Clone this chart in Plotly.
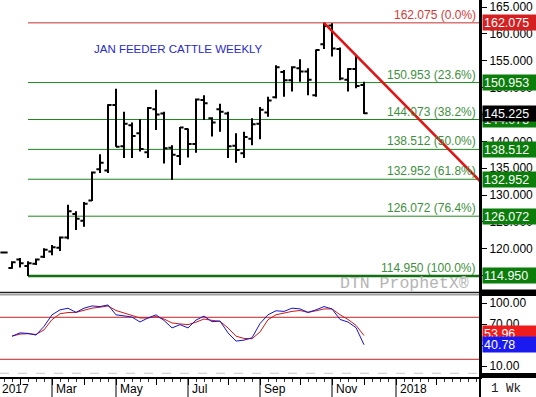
import plotly.graph_objects as go
import pandas as pd

# ---------------- data ----------------
bar_dates = pd.date_range("2017-01-20", periods=46, freq="7D")

opens = [119.3, 116.4, 118.0, 116.8, 117.2, 118.5, 119.5, 120.2, 122.1, 126.5,
         125.2, 129.0, 134.8, 134.6, 146.8, 139.1, 143.0, 141.5, 138.0, 146.0,
         145.2, 138.8, 137.3, 142.3, 139.5, 147.7, 144.3, 146.0, 145.2, 139.2,
         137.8, 140.5, 143.3, 145.4, 148.2, 152.9, 151.4, 153.6, 153.0, 148.6,
         158.1, 161.6, 157.2, 151.5, 153.5, 150.5]
highs = [119.4, 117.7, 118.3, 117.7, 118.2, 120.1, 120.7, 122.3, 128.2, 127.0,
         128.7, 134.4, 137.6, 146.9, 149.8, 145.5, 143.5, 144.1, 146.4, 149.6,
         145.5, 139.3, 142.7, 142.4, 148.0, 148.6, 144.5, 147.0, 145.5, 141.5,
         141.8, 144.3, 146.4, 148.3, 154.2, 153.3, 154.0, 155.3, 153.6, 157.1,
         162.075, 162.0, 157.5, 153.6, 156.1, 151.1]
lows = [119.2, 116.3, 116.5, 114.95, 117.0, 118.3, 118.8, 119.6, 121.8, 123.5,
        124.1, 128.9, 134.1, 134.1, 139.0, 136.9, 136.9, 138.1, 136.9, 142.1,
        135.9, 132.8, 135.6, 137.0, 137.9, 144.0, 140.9, 141.8, 136.9, 136.0,
        136.9, 139.3, 140.4, 144.6, 148.0, 148.3, 149.3, 151.1, 148.6, 148.3,
        157.2, 155.8, 151.4, 149.3, 149.9, 145.1]
closes = [119.3, 117.5, 117.3, 117.3, 118.0, 119.8, 120.3, 122.1, 127.0, 125.6,
          128.4, 134.2, 136.0, 146.8, 139.0, 143.3, 141.0, 138.6, 146.2, 145.0,
          138.7, 137.5, 142.6, 139.5, 147.8, 147.1, 143.5, 145.5, 139.1, 138.4,
          140.8, 143.2, 145.9, 147.6, 153.8, 151.4, 153.8, 153.0, 151.5, 157.0,
          161.5, 157.3, 151.7, 153.5, 150.3, 145.225]

stoch_k = [53.0, 57.7, 57.0, 54.6, 67.0, 83.5, 90.6, 92.9, 87.0, 93.0,
           96.2, 95.3, 97.6, 83.5, 82.0, 80.3, 73.3, 79.0, 83.5, 75.5,
           64.8, 69.5, 64.8, 76.0, 81.7, 73.7, 74.6, 57.7, 46.0, 47.4,
           50.7, 71.0, 83.6, 89.3, 88.4, 93.0, 92.0, 87.0, 90.6, 95.3,
           91.9, 76.9, 73.2, 65.2, 40.78]
stoch_d = [53.0, 56.0, 56.5, 55.5, 62.0, 76.7, 85.0, 86.8, 87.0, 89.7,
           93.0, 94.4, 96.2, 89.7, 86.0, 82.0, 79.0, 79.0, 81.0, 77.5,
           71.9, 70.5, 69.5, 73.0, 77.5, 75.6, 74.2, 64.8, 53.0, 49.8,
           49.3, 59.0, 76.5, 83.6, 86.0, 88.4, 89.7, 87.0, 89.3, 91.9,
           91.9, 83.6, 76.9, 68.5, 53.96]

fib_levels = [162.075, 150.953, 144.073, 138.512, 132.952, 126.072, 114.950]
fib_pcts = ["0.0%", "23.6%", "38.2%", "50.0%", "61.8%", "76.4%", "100.0%"]
fib_start = "2017-02-10"

trend_dates = ["2017-10-27", "2018-03-12 12:00"]
trend_prices = [162.075, 132.6]

last_price = 145.225

month_ticks = ["2017-02-03", "2017-03-03", "2017-03-31", "2017-04-28", "2017-06-02",
               "2017-06-30", "2017-08-04", "2017-09-01", "2017-10-06", "2017-11-03",
               "2017-12-01", "2017-12-29", "2018-02-02"]
label_ticks = ["2017-03-03", "2017-04-28", "2017-06-30", "2017-09-01", "2017-11-03", "2017-12-29"]
label_texts = ["Mar", "May", "Jul", "Sep", "Nov", "2018"]

price_ticks = [115, 120, 125, 130, 135, 140, 145, 150, 155, 160, 165]
stoch_ticks = [10, 40, 70, 100]

x_range = ["2017-01-16 12:00", "2018-03-12 12:00"]

# ---------------- layout helpers ----------------
W, H = 536, 397
PW = 480          # plot area width (px)
PH = 377          # plot area height (px)

def py(p):  # pixel y -> paper y
    return (PH - p) / PH

def px(p):
    return p / PW

FONT = "Liberation Sans, Arial, sans-serif"
GREEN = "#1f861f"
GREEN_TXT = "#3f8f3f"
GREEN_BOX = "#0b7d0b"
RED = "#d42020"

fig = go.Figure()

fig.add_trace(go.Ohlc(
    x=bar_dates, open=opens, high=highs, low=lows, close=closes,
    increasing=dict(line=dict(color="black", width=2)),
    decreasing=dict(line=dict(color="black", width=2)),
    tickwidth=0.45, xaxis="x", yaxis="y", hoverinfo="skip", showlegend=False))

# trend line
fig.add_trace(go.Scatter(x=trend_dates, y=trend_prices, mode="lines",
                         line=dict(color="#e01414", width=2.6),
                         xaxis="x", yaxis="y", hoverinfo="skip", showlegend=False))

# stochastics
fig.add_trace(go.Scatter(x=bar_dates[1:], y=stoch_d, mode="lines",
                         line=dict(color="#d01818", width=1),
                         xaxis="x", yaxis="y2", hoverinfo="skip", showlegend=False))
fig.add_trace(go.Scatter(x=bar_dates[1:], y=stoch_k, mode="lines",
                         line=dict(color="#1414d0", width=1),
                         xaxis="x", yaxis="y2", hoverinfo="skip", showlegend=False))

shapes = []
annotations = []

# fib lines and labels
for i, (lvl, pct) in enumerate(zip(fib_levels, fib_pcts)):
    if i == 0:
        col, w, tcol = "#c83030", 1, "#d03a3a"
    elif i == len(fib_levels) - 1:
        col, w, tcol = "#127012", 2.5, GREEN_TXT
    else:
        col, w, tcol = GREEN, 1, GREEN_TXT
    shapes.append(dict(type="line", xref="x", yref="y", x0=fib_start, x1=x_range[1],
                       y0=lvl, y1=lvl, line=dict(color=col, width=w), layer="below"))
    annotations.append(dict(xref="paper", yref="y", x=px(478), y=lvl, yshift=8,
                            xanchor="right", yanchor="middle", showarrow=False,
                            text=f"{lvl:.3f} ({pct})",
                            font=dict(family=FONT, size=12, color=tcol)))

# stochastic reference lines
for lv in (80, 20):
    shapes.append(dict(type="line", xref="paper", yref="y2", x0=0, x1=1, y0=lv, y1=lv,
                       line=dict(color="#c82020", width=1), layer="below"))
shapes.append(dict(type="line", xref="paper", yref="y2", x0=0, x1=1, y0=0, y1=0,
                   line=dict(color="#c8c8c8", width=1, dash="dash"), layer="below"))

# separators
shapes.append(dict(type="line", xref="paper", yref="paper", x0=0, x1=1,
                   y0=py(292.5), y1=py(292.5), line=dict(color="#202020", width=1.5)))
shapes.append(dict(type="line", xref="paper", yref="paper", x0=0, x1=1,
                   y0=py(294.8), y1=py(294.8), line=dict(color="#a0a0a0", width=1.5)))
shapes.append(dict(type="rect", xref="paper", yref="paper", x0=1, x1=px(540),
                   y0=py(296), y1=py(289.5), fillcolor="black", line=dict(width=0)))
shapes.append(dict(type="rect", xref="paper", yref="paper", x0=1, x1=px(540),
                   y0=py(378), y1=py(373), fillcolor="black", line=dict(width=0)))
shapes.append(dict(type="line", xref="paper", yref="paper", x0=1, x1=1,
                   y0=py(400), y1=1, line=dict(color="black", width=2)))

# major x label tick lines
for d in label_ticks:
    shapes.append(dict(type="line", xref="x", yref="paper", x0=d, x1=d,
                       y0=0, y1=py(400), line=dict(color="black", width=1)))

# x labels
annotations.append(dict(xref="paper", yref="paper", x=0, y=py(389), xanchor="left",
                        yanchor="middle", showarrow=False, text="2017",
                        font=dict(family=FONT, size=12, color="black")))
for d, t in zip(label_ticks, label_texts):
    annotations.append(dict(xref="x", yref="paper", x=d, y=py(389), xanchor="left",
                            yanchor="middle", xshift=2, showarrow=False, text=t,
                            font=dict(family=FONT, size=12, color="black")))
annotations.append(dict(xref="paper", yref="paper", x=px(489), y=py(389), xanchor="left",
                        yanchor="middle", showarrow=False, text="1 Wk",
                        font=dict(family="Liberation Mono, monospace", size=12.5, color="#202020")))

# title and watermark
annotations.append(dict(xref="paper", yref="paper", x=px(92), y=py(49.5), xanchor="left",
                        yanchor="middle", showarrow=False, text="JAN FEEDER CATTLE WEEKLY",
                        font=dict(family=FONT, size=11.5, color="#2a2ac4")))
annotations.append(dict(xref="paper", yref="paper", x=px(471), y=py(283.5), xanchor="right",
                        yanchor="middle", showarrow=False, text="DTN ProphetX®",
                        font=dict(family="Liberation Mono, monospace", size=16.5, color="#b4b4b4")))

# right-side value boxes
def box(val, text, bg, yref="y", yshift=0):
    return dict(xref="paper", yref=yref, x=px(482.5), y=val, yshift=yshift,
                xanchor="left", yanchor="middle", showarrow=False, text=text,
                align="left", width=51, height=13, borderpad=1, bgcolor=bg,
                font=dict(family=FONT, size=12.5, color="white"))

for i, lvl in enumerate(fib_levels):
    annotations.append(box(lvl, f"{lvl:.3f}", RED if i == 0 else GREEN_BOX))
annotations.append(box(last_price, f"{last_price:.3f}", "black"))
annotations.append(box(stoch_d[-1], f"{stoch_d[-1]:.2f}", "#ee1c1c", yref="y2", yshift=2))
annotations.append(box(stoch_k[-1], f"{stoch_k[-1]:.2f}", "#1a1af0", yref="y2", yshift=0))

fig.update_layout(
    width=W, height=H,
    margin=dict(l=0, r=W - PW, t=0, b=H - PH, pad=0, autoexpand=False),
    paper_bgcolor="white", plot_bgcolor="white",
    showlegend=False,
    shapes=shapes, annotations=annotations,
    xaxis=dict(type="date", range=x_range, domain=[0, 1], anchor="y2",
               rangeslider=dict(visible=False), automargin=False,
               showgrid=False, zeroline=False,
               showline=True, linecolor="black", linewidth=1.5,
               tickmode="array", tickvals=month_ticks, showticklabels=False,
               ticks="outside", ticklen=6, tickcolor="black", tickwidth=1,
               minor=dict(tickmode="linear", tick0="2017-01-20", dtick=7 * 86400000,
                          ticks="outside", ticklen=3, tickcolor="#333333", showgrid=False)),
    yaxis=dict(domain=[py(291), 1], range=[112.14, 166.33], side="right", anchor="x",
               automargin=False,
               tickmode="array", tickvals=price_ticks, tickformat=".3f",
               ticks="outside", ticklen=5, tickcolor="black",
               showgrid=False, zeroline=False, showline=True, linecolor="black", linewidth=2,
               tickfont=dict(family=FONT, size=12, color="black")),
    yaxis2=dict(domain=[0, py(296)], range=[-5.3, 110.4], side="right", anchor="x",
                automargin=False,
                tickmode="array", tickvals=stoch_ticks, tickformat=".2f",
                ticks="outside", ticklen=5, tickcolor="black",
                showgrid=False, zeroline=False, showline=True, linecolor="black", linewidth=2,
                tickfont=dict(family=FONT, size=12, color="black")),
)

fig.write_html("out.html", config={"displayModeBar": False},
               post_script="document.body.style.margin='0';document.body.style.padding='0';document.body.style.overflow='hidden';")
